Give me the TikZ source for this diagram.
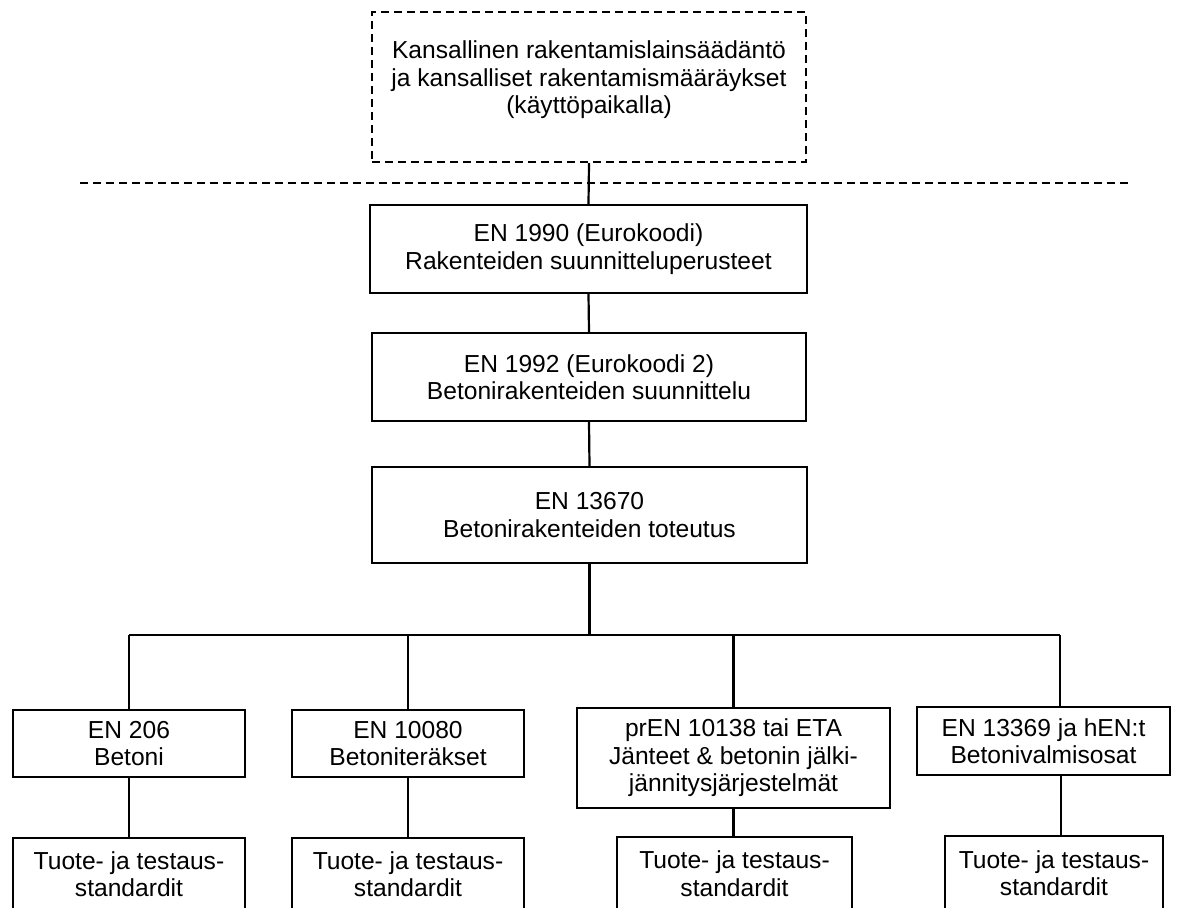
\documentclass[tikz,border=0pt]{standalone}
\usepackage{fontspec}
\setmainfont{Liberation Sans}
\begin{document}
\begin{tikzpicture}[x=1pt,y=-1pt,
  box/.style={draw=black, line width=2.2pt, rectangle, inner sep=0pt, align=center,
    font=\fontsize{24.6}{27.5}\selectfont},
  dashbox/.style={box, dash pattern=on 8pt off 5pt},
  txt/.style={inner sep=0pt, align=center, font=\fontsize{24.6}{27.5}\selectfont},
  conn/.style={line width=2.2pt},
  dashline/.style={line width=2.2pt, dash pattern=on 8pt off 5pt}]
\useasboundingbox (0,0) rectangle (1184,908);
\fill[white] (0,0) rectangle (1184,908);

% top dashed box
\node[dashbox, minimum width=434pt, minimum height=150pt] (top) at (589,87) {};
\node[txt] (toptext) at (589,80) {Kansallinen rakentamislainsäädäntö\\ja kansalliset rakentamismääräykset\\(käyttöpaikalla)};

% dashed separator
\coordinate (dl) at (80,183);
\coordinate (dr) at (1130,183);
\draw[dashline] (dl) -- (dr);

% main chain
\node[box, minimum width=437pt, minimum height=88pt] (b1) at (588.5,249) {EN 1990 (Eurokoodi)\\Rakenteiden suunnitteluperusteet};
\node[box, minimum width=434pt, minimum height=88pt] (b2) at (589,377) {EN 1992 (Eurokoodi 2)\\Betonirakenteiden suunnittelu};
\node[box, minimum width=435pt, minimum height=96pt] (b3) at (589.5,515) {EN 13670\\Betonirakenteiden toteutus};

\draw[conn] (top.south) -- (b1.north);
\draw[conn] (b1.south) -- (b2.north);
\draw[conn] (b2.south) -- (b3.north);

% second level
\node[box, minimum width=232pt, minimum height=67pt] (bA) at (129,743.5) {EN 206\\Betoni};
\node[box, minimum width=232pt, minimum height=67pt] (bB) at (408,743.5) {EN 10080\\Betoniteräkset};
\node[box, minimum width=313pt, minimum height=100pt] (bC) at (733.5,758) {prEN 10138 tai ETA\\Jänteet \& betonin jälki-\\jännitysjärjestelmät};
\node[box, minimum width=253pt, minimum height=68pt] (bD) at (1043.5,741) {EN 13369 ja hEN:t\\Betonivalmisosat};

% bus
\coordinate (busL) at (129,635);
\coordinate (busR) at (1060,635);
\coordinate (dropD) at (1061,800);
\draw[conn] (b3.south) -- (b3.south |- busL);
\draw[conn] (busL) -- (busR);
\draw[conn] (busL) -- (bA.north);
\draw[conn] (bB.north |- busL) -- (bB.north);
\draw[conn] (bC.north |- busL) -- (bC.north);
\draw[conn] (busR) -- (bD.north -| busR);

% third level
\node[box, minimum width=232pt, minimum height=72pt] (tA) at (129,874) {Tuote- ja testaus-\\standardit};
\node[box, minimum width=232pt, minimum height=72pt] (tB) at (408,874) {Tuote- ja testaus-\\standardit};
\node[box, minimum width=235pt, minimum height=73pt] (tC) at (734.5,873.5) {Tuote- ja testaus-\\standardit};
\node[box, minimum width=218pt, minimum height=74pt] (tD) at (1054,873) {Tuote- ja testaus-\\standardit};

\draw[conn] (bA.south) -- (tA.north);
\draw[conn] (bB.south) -- (tB.north);
\draw[conn] (bC.south) -- (bC.south |- tC.north);
\draw[conn] (bD.south -| dropD) -- (tD.north -| dropD);
\end{tikzpicture}
\end{document}
